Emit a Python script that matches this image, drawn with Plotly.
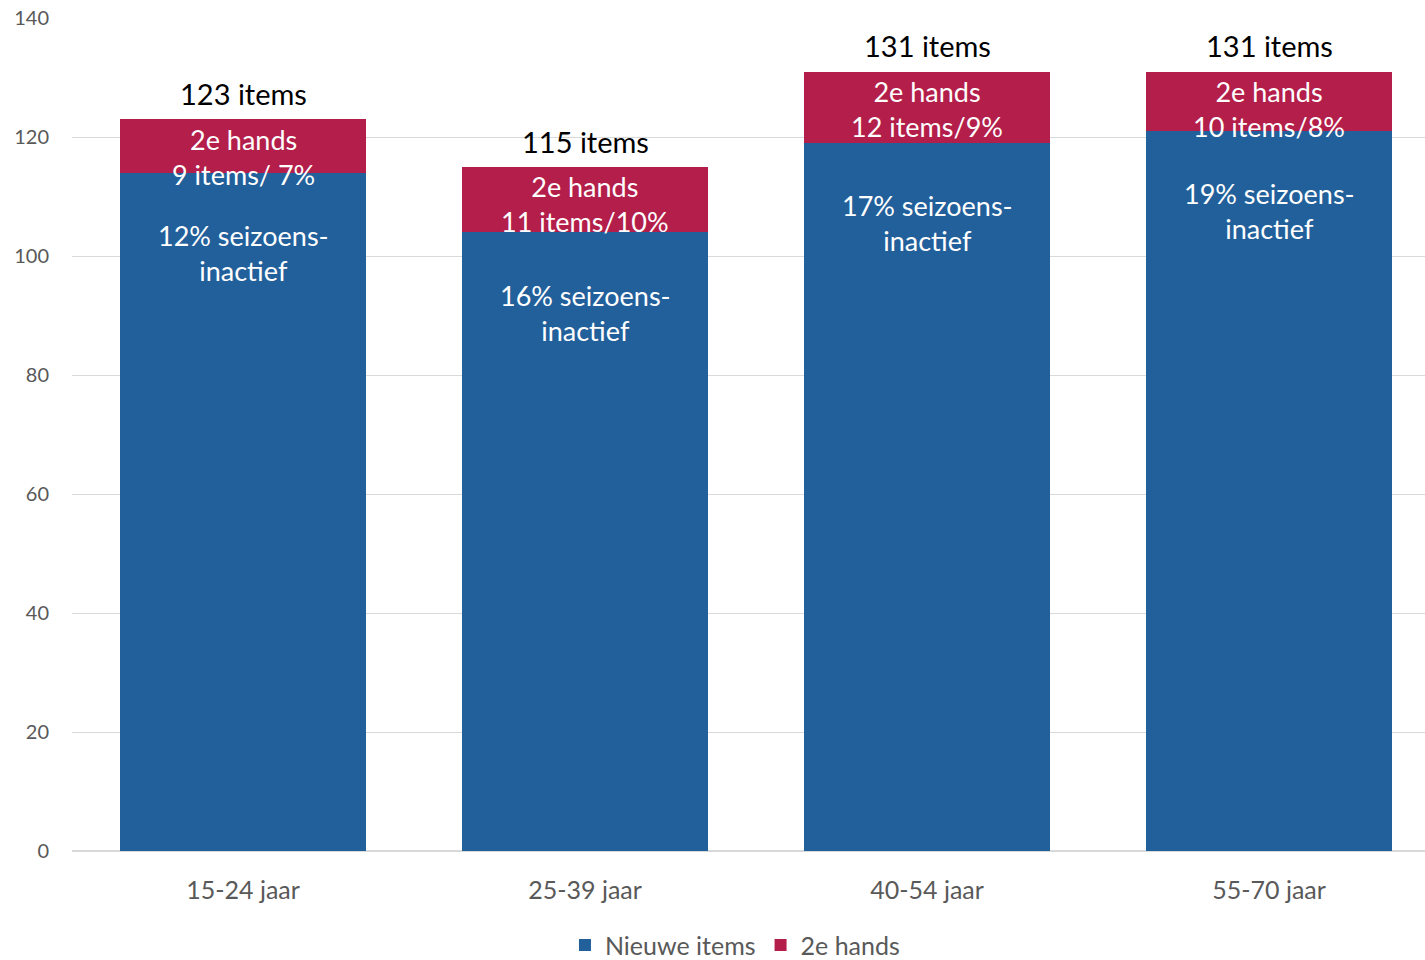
import plotly.graph_objects as go

# Age groups and item counts per group
age_groups = ["15-24 jaar", "25-39 jaar", "40-54 jaar", "55-70 jaar"]
totals = [123, 115, 131, 131]
second_hand = [9, 11, 12, 10]
second_hand_pct = ["7%", "10%", "9%", "8%"]
second_hand_sep = ["/ ", "/", "/", "/"]
season_inactive_pct = ["12%", "16%", "17%", "19%"]
new_items = [t - s for t, s in zip(totals, second_hand)]

BLUE = "#22609B"
RED = "#B31E4A"
FONT = "Lato"

fig = go.Figure()
fig.add_trace(go.Bar(
    x=age_groups, y=new_items, name="Nieuwe items",
    marker=dict(color=BLUE, line=dict(width=0)), width=0.72,
))
fig.add_trace(go.Bar(
    x=age_groups, y=second_hand, name="2e hands",
    marker=dict(color=RED, line=dict(width=0)), width=0.72,
))

for i, cat in enumerate(age_groups):
    # total above the stack
    fig.add_annotation(
        x=cat, y=totals[i] + 4.3, text=f"{totals[i]} items", showarrow=False,
        font=dict(family=FONT, size=29, color="#000000"), yanchor="middle",
    )
    # second-hand share inside the red segment
    fig.add_annotation(
        x=cat, y=totals[i] - 6.3,
        text=f"2e hands<br>{second_hand[i]} items{second_hand_sep[i]}{second_hand_pct[i]}",
        showarrow=False, yanchor="middle",
        font=dict(family=FONT, size=27, color="#FFFFFF"),
    )
    # season-inactive share inside the blue segment
    fig.add_annotation(
        x=cat, y=new_items[i] - 13.5,
        text=f"{season_inactive_pct[i]} seizoens-<br>inactief",
        showarrow=False, yanchor="middle",
        font=dict(family=FONT, size=27, color="#FFFFFF"),
    )

fig.update_layout(
    width=1425, height=960,
    margin=dict(l=72, r=0, t=18, b=109, autoexpand=False),
    barmode="stack",
    plot_bgcolor="#FFFFFF", paper_bgcolor="#FFFFFF",
    font=dict(family=FONT, color="#595959"),
    showlegend=True,
    legend=dict(
        orientation="h", x=0.49, xanchor="center", y=-0.113, yanchor="middle",
        font=dict(family=FONT, size=25, color="#595959"),
        traceorder="normal", itemsizing="constant",
    ),
    xaxis=dict(
        range=[-0.5, 3.456], showgrid=False, showline=False, ticks="",
        automargin=False, ticklabelstandoff=22,
        tickfont=dict(family=FONT, size=25, color="#595959"),
    ),
    yaxis=dict(
        range=[0, 140], dtick=20, showgrid=True, gridcolor="#D9D9D9", gridwidth=1,
        zeroline=True, zerolinecolor="#D9D9D9", zerolinewidth=1.5,
        showline=False, ticks="", ticklabelstandoff=22, automargin=False,
        tickfont=dict(family=FONT, size=20, color="#595959"),
    ),
)

fig.write_html("out.html")
